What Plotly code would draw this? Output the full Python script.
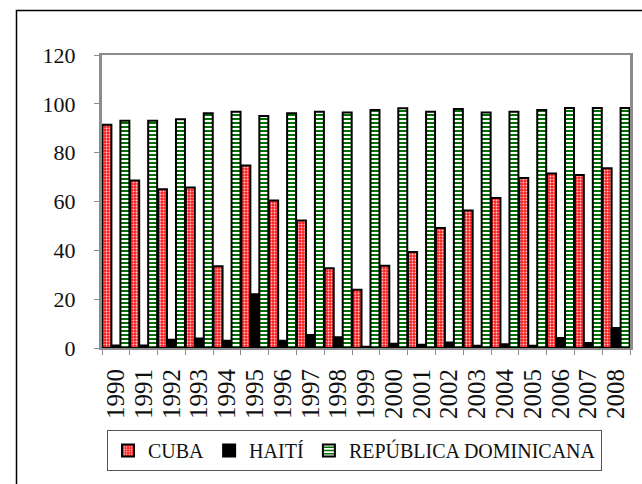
import plotly.graph_objects as go

years = [str(y) for y in range(1990, 2009)]
cuba = [91.4, 68.6, 65.0, 65.7, 33.5, 74.7, 60.4, 52.2, 32.7, 23.9,
        33.7, 39.3, 49.1, 56.3, 61.4, 69.6, 71.5, 70.9, 73.6]
haiti = [1.0, 1.0, 3.4, 3.9, 3.0, 22.0, 3.0, 5.3, 4.4, 0.5,
         1.7, 1.3, 2.3, 0.9, 1.5, 0.9, 4.1, 2.0, 8.2]
rd = [93.1, 93.1, 93.7, 96.1, 96.8, 95.0, 96.1, 96.8, 96.4, 97.5,
      98.2, 96.8, 97.9, 96.5, 96.8, 97.5, 98.3, 98.3, 98.3]

W, H = 642, 484
L, R, T, B = 102, 12, 55, 136
pw, ph = W - L - R, H - T - B

serif = "Liberation Serif"

fig = go.Figure()
fig.add_trace(go.Bar(
    name="CUBA", x=years, y=cuba,
    marker=dict(color="#ff1a1a", line=dict(color="black", width=2),
                pattern=dict(shape=".", fgcolor="#ffc8c8", bgcolor="#ff1a1a",
                             size=3, solidity=0.35, fillmode="replace")),
))
fig.add_trace(go.Bar(
    name="HAITÍ", x=years, y=haiti,
    marker=dict(color="black", line=dict(color="black", width=2)),
))
fig.add_trace(go.Bar(
    name="REPÚBLICA DOMINICANA", x=years, y=rd,
    marker=dict(color="#007000", line=dict(color="black", width=2),
                pattern=dict(shape="-", fgcolor="white", bgcolor="#007000",
                             size=4, solidity=0.5, fillmode="replace")),
))

fig.update_layout(
    width=W, height=H,
    margin=dict(l=L, r=R, t=T, b=B, autoexpand=False),
    paper_bgcolor="white", plot_bgcolor="white",
    barmode="group", bargap=0.03, bargroupgap=0,
    font=dict(family=serif, size=20, color="#111"),
    showlegend=True,
    legend=dict(orientation="h", x=(107 - L) / pw, xanchor="left",
                y=(H - B - 430) / ph, yanchor="top",
                bordercolor="#555", borderwidth=1,
                font=dict(family=serif, size=20, color="#111"),
                traceorder="normal"),
    xaxis=dict(type="category", tickangle=-90, showgrid=False, automargin=False,
               tickmode="array", tickvals=years, ticktext=years,
               showline=True, linecolor="#8c8c8c", linewidth=2, mirror=True,
               ticks="outside", ticklen=5, tickcolor="#8c8c8c",
               tickson="boundaries", ticklabelstandoff=9,
               tickfont=dict(family=serif, size=25, color="#111")),
    yaxis=dict(range=[0, 120], dtick=20, showgrid=False, zeroline=False,
               automargin=False,
               showline=True, linecolor="#8c8c8c", linewidth=3, mirror=True,
               ticks="outside", ticklen=5, tickcolor="#8c8c8c",
               ticklabelstandoff=14,
               tickfont=dict(family=serif, size=22, color="#111")),
    shapes=[dict(type="rect", xref="paper", yref="paper",
                 x0=(16.5 - L) / pw, x1=(W + 5 - L) / pw,
                 y0=(H - B - (H + 5)) / ph, y1=(H - B - 10.5) / ph,
                 line=dict(color="black", width=1.5), fillcolor="rgba(0,0,0,0)",
                 layer="below")],
)

fig.write_html("out.html", config={"displayModeBar": False},
               post_script="document.body.style.margin='0';")
